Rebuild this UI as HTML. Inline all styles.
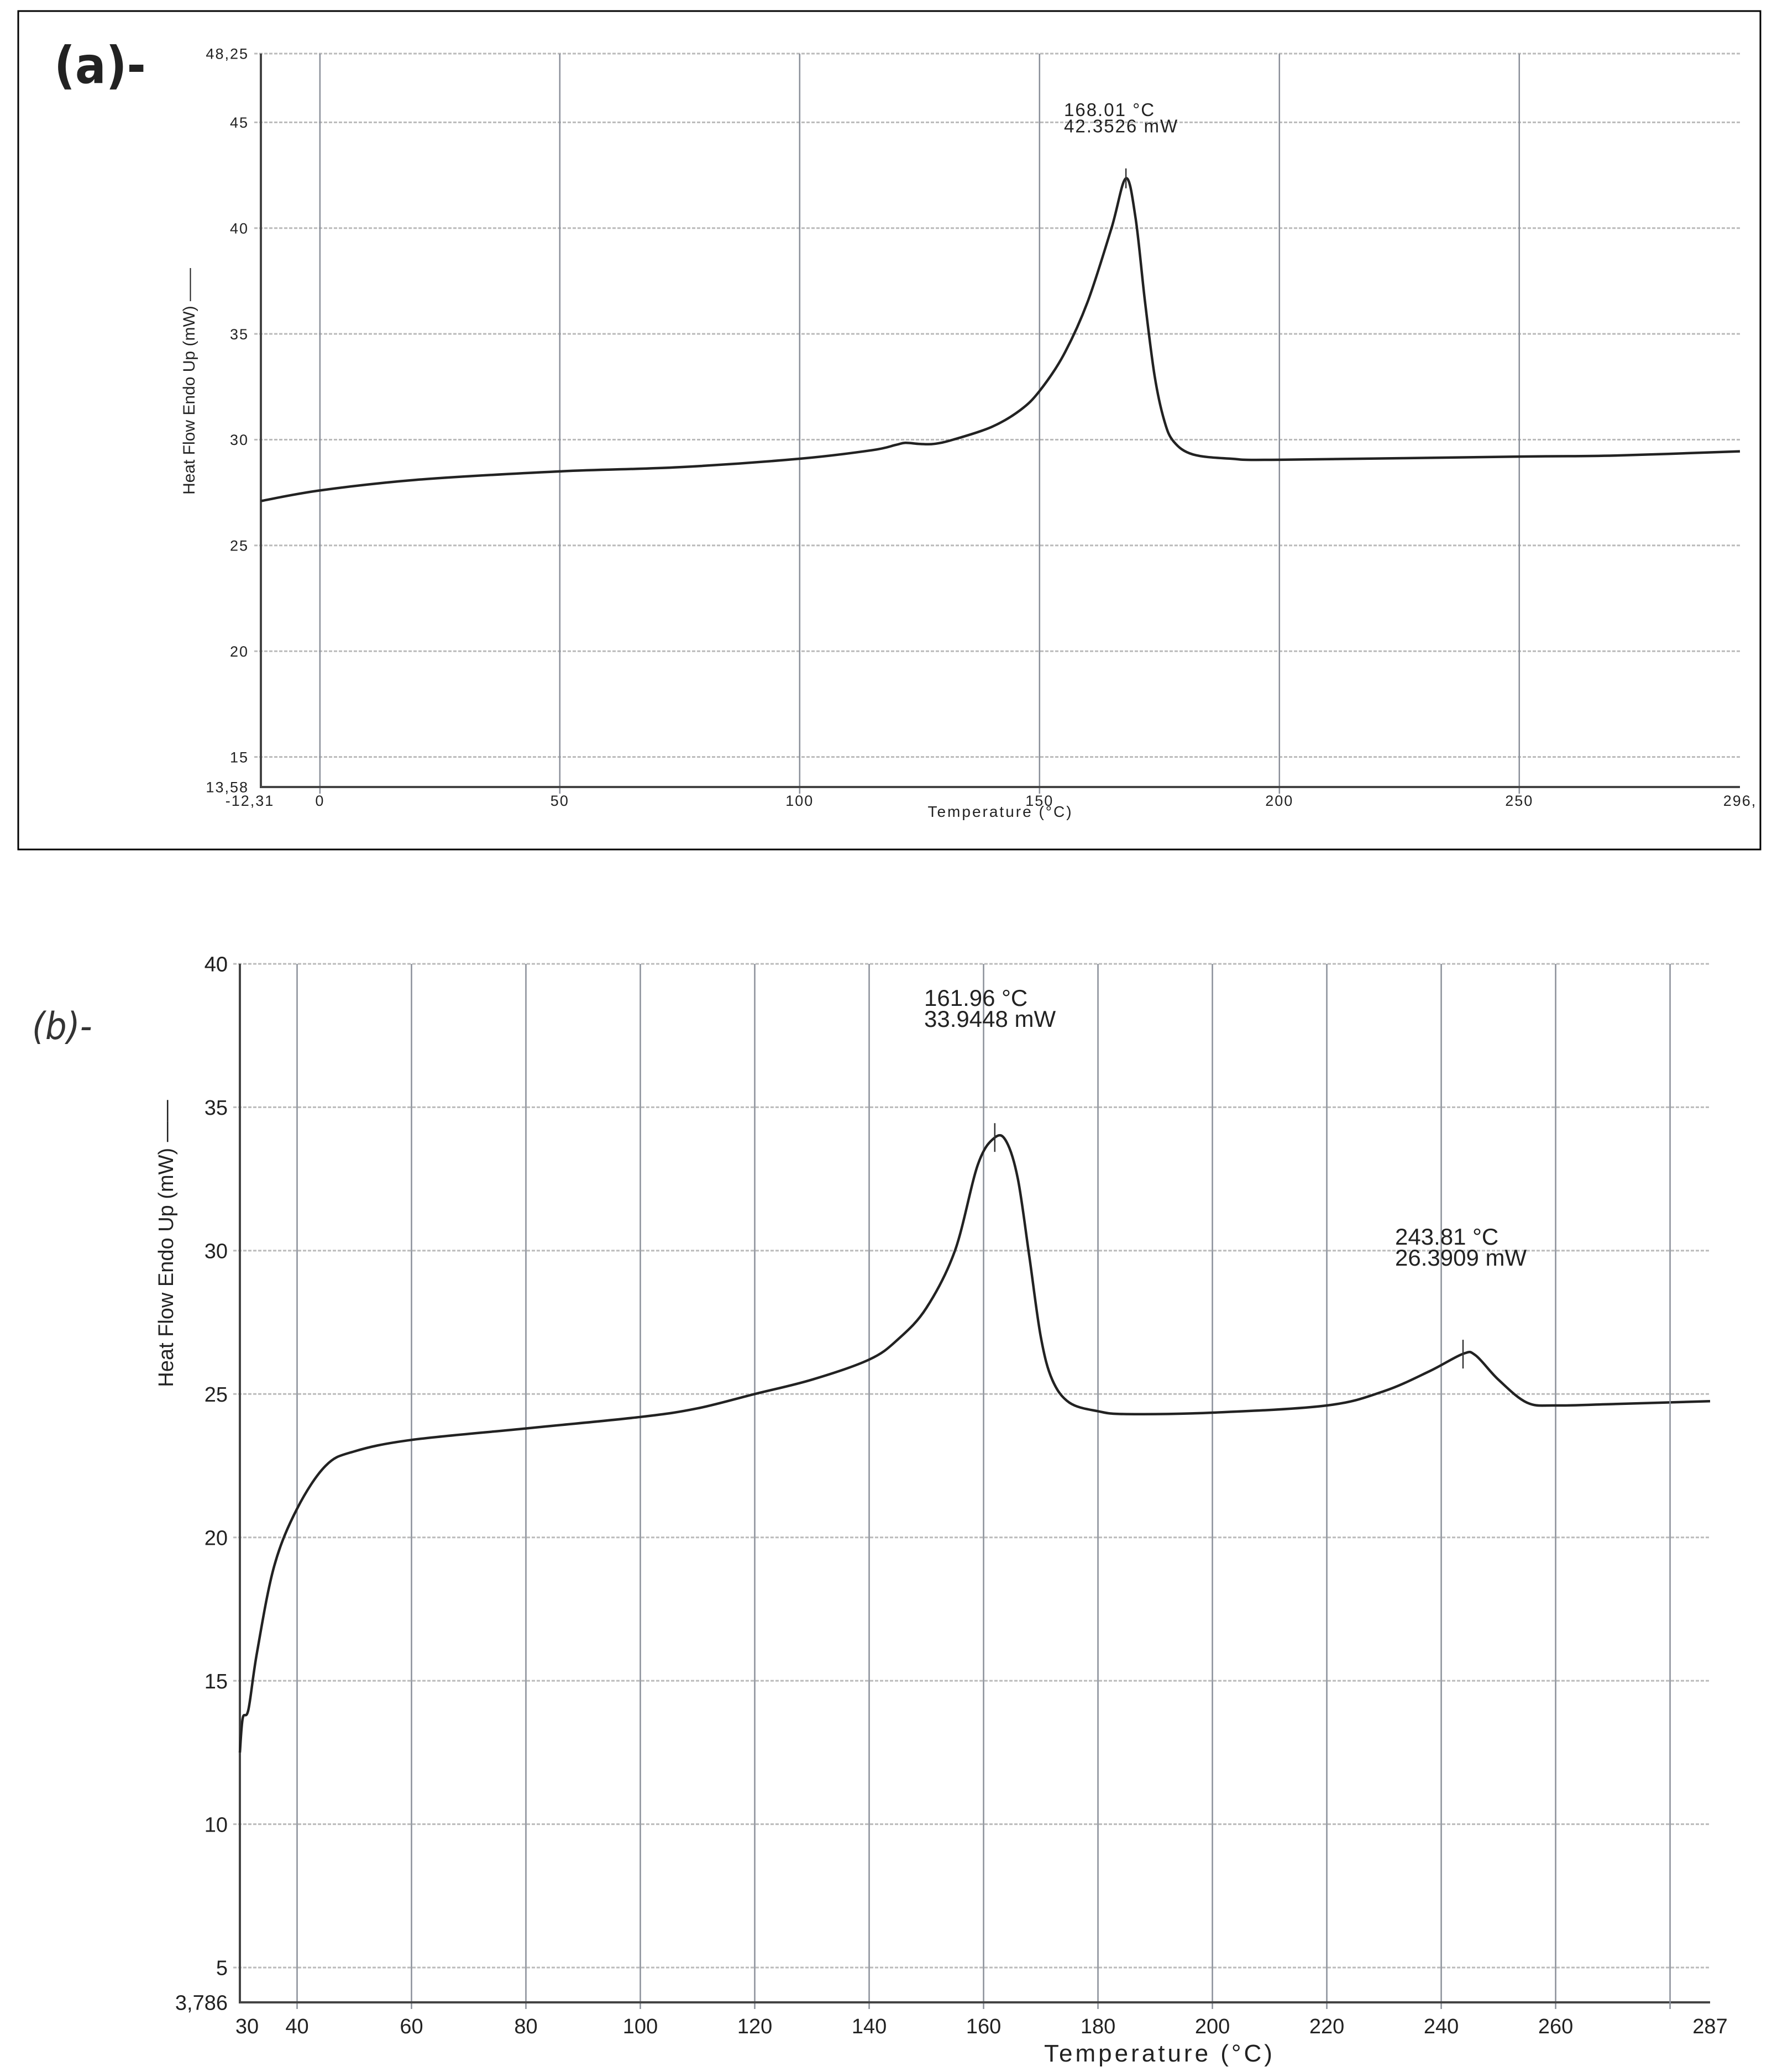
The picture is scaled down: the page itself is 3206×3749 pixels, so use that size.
<!DOCTYPE html>
<html><head><meta charset="utf-8"><style>
html,body{margin:0;padding:0;background:#fff;}
svg{display:block;}
text{font-family:"Liberation Sans",sans-serif;fill:#222;}
.n{font-family:"Liberation Sans Narrow","Liberation Sans",sans-serif;}
</style></head><body>
<svg id="chart" width="3206" height="3749" viewBox="0 0 3206 3749" xmlns="http://www.w3.org/2000/svg">
<rect x="33" y="20" width="3152" height="1517" fill="none" stroke="#000" stroke-width="3"/>
<text x="98" y="150" font-size="92" font-weight="bold" style="font-family:'DejaVu Sans Condensed','Liberation Sans Narrow',sans-serif">(a)-</text>
<text x="58" y="1880" font-size="68" font-style="italic" style="font-family:'DejaVu Sans Condensed','Liberation Sans Narrow',sans-serif;fill:#333">(b)-</text>
<g id="ga"></g><g id="gb"></g>
</svg>
<script>
// Panel (a) data
const aTicksX = [0,50,100,150,200,250];
const aTicksY = [15,20,25,30,35,40,45];
const aTempX = [-12.31,0,20,50,75,100,115,120,122,125,128,132,140,146,150,155,160,165,168,170,172,174,176,178,182,190,200,250,270,296];
const aHeat = [27.1,27.6,28.1,28.5,28.7,29.1,29.5,29.75,29.85,29.8,29.8,30.0,30.6,31.4,32.3,34,36.5,40,42.35,40.5,36.5,33,30.9,29.9,29.3,29.1,29.05,29.2,29.25,29.45];
// Panel (b) data
const bTicksX = [40,60,80,100,120,140,160,180,200,220,240,260,280];
const bTicksY = [5,10,15,20,25,30,35,40];
const bTempX = [30,30.5,31.5,33,36,40,45,50,60,80,100,110,120,130,140,145,150,155,159,162,164,166,168,170,172,175,180,185,200,220,230,238,243.8,246,250,255,260,270,287];
const bHeat = [12.5,13.7,14,16,19,21,22.5,23,23.4,23.8,24.2,24.5,25,25.5,26.2,26.9,28,30,33,33.95,33.8,32.5,29.8,27,25.5,24.7,24.4,24.3,24.35,24.6,25.1,25.8,26.4,26.35,25.5,24.7,24.6,24.65,24.75];

const NS='http://www.w3.org/2000/svg';
function mk(parent,tag,attrs,txt){const e=document.createElementNS(NS,tag);for(const k in attrs)e.setAttribute(k,attrs[k]);if(txt!==undefined)e.textContent=txt;parent.appendChild(e);return e;}
function pathFrom(pts){let d='M'+pts[0][0].toFixed(1)+','+pts[0][1].toFixed(1);
 for(let i=0;i<pts.length-1;i++){const p0=pts[Math.max(0,i-1)],p1=pts[i],p2=pts[i+1],p3=pts[Math.min(pts.length-1,i+2)];
 const c1=[p1[0]+(p2[0]-p0[0])/6,p1[1]+(p2[1]-p0[1])/6],c2=[p2[0]-(p3[0]-p1[0])/6,p2[1]-(p3[1]-p1[1])/6];
 d+='C'+c1[0].toFixed(1)+','+c1[1].toFixed(1)+' '+c2[0].toFixed(1)+','+c2[1].toFixed(1)+' '+p2[0].toFixed(1)+','+p2[1].toFixed(1);}return d;}

function panel(g,o){
 const sx=v=>o.px0+(v-o.xmin)/(o.xmax-o.xmin)*(o.px1-o.px0);
 const sy=v=>o.py1-(v-o.ymin)/(o.ymax-o.ymin)*(o.py1-o.py0);
 [...o.ty,o.ymax].forEach(v=>{const l=mk(g,'line',{x1:o.px0-12,x2:o.px1,y1:sy(v),y2:sy(v),stroke:'#bbb','stroke-width':3,'stroke-dasharray':'6,3'});
  
  });
 o.tx.forEach(v=>{const l=mk(g,'line',{x1:sx(v),x2:sx(v),y1:o.py0,y2:o.py1+12,stroke:'#8a8f99','stroke-width':2.5});
  
  
  const t=mk(g,'text',{x:sx(v),y:o.py1+o.tdy,'font-size':o.fs,'text-anchor':'middle',class:o.cls,'letter-spacing':o.tls},String(v));
  
  });
 o.ty.forEach(v=>{const t=mk(g,'text',{x:o.px0-22,y:sy(v)+o.fs*0.36,'font-size':o.fs,'text-anchor':'end',class:o.cls,'letter-spacing':o.tls},String(v));
  
  });
 [[o.xmin,o.xminL],[o.xmax,o.xmaxL]].forEach(([v,l])=>{const t=mk(g,'text',{x:sx(v),y:o.py1+o.tdy,'font-size':o.fs,'text-anchor':v===o.xmin?'end':'middle',class:o.cls,'letter-spacing':o.tls},l);
  if(v===o.xmin)t.setAttribute('x',sx(v)+o.fs*0.9);
  
  });
 [[o.ymin,o.yminL],[o.ymax,o.ymaxL]].forEach(([v,l])=>{const t=mk(g,'text',{x:o.px0-22,y:sy(v)+o.fs*0.36,'font-size':o.fs,'text-anchor':'end',class:o.cls,'letter-spacing':o.tls},l);
  
  });
 const ax=mk(g,'path',{d:`M${o.px0},${o.py0}V${o.py1}H${o.px1}`,fill:'none',stroke:'#444','stroke-width':4});
 
 
 const pts=o.X.map((x,i)=>[sx(x),sy(o.Y[i])]);
 const c=mk(g,'path',{d:pathFrom(pts),fill:'none',stroke:'#222','stroke-width':4.5});
 
 
 o.peaks.forEach(p=>{const m=mk(g,'line',{x1:sx(p[0]),x2:sx(p[0]),y1:sy(p[1])-o.pk,y2:sy(p[1])+o.pk,stroke:'#333','stroke-width':2.5});
  
  
  const t1=mk(g,'text',{x:p[2],y:p[3],'font-size':o.afs,'letter-spacing':o.tls},p[0].toFixed(2)+' °C');
  
  
  const t2=mk(g,'text',{x:p[2],y:p[3]+o.afs*0.9,'font-size':o.afs,'letter-spacing':o.tls},p[1].toFixed(4)+' mW');
  
  });
 const xt=mk(g,'text',{x:o.xtx,y:o.xty,'font-size':o.xtfs,'text-anchor':'middle','letter-spacing':o.ls},'Temperature (°C)');
 
 
 const yt=mk(g,'text',{x:0,y:0,'font-size':o.ytfs,'text-anchor':'middle',transform:`translate(${o.ytx},${o.yty}) rotate(-90)`,class:'n'},'Heat Flow Endo Up (mW) ——');
 
 
}
panel(document.getElementById('ga'),{xmin:-12.31,xmax:296,ymin:13.58,ymax:48.25,px0:472,px1:3148,py0:97,py1:1424,
 tx:aTicksX,ty:aTicksY,X:aTempX,Y:aHeat,fs:27,tls:2,tdy:34,cls:'',xminL:'-12,31',xmaxL:'296,',yminL:'13,58',ymaxL:'48,25',
 peaks:[[168.01,42.3526,1925,210]],pk:18,afs:33,xtx:1810,xty:1478,xtfs:28,ls:3,ytx:352,yty:690,ytfs:30});
panel(document.getElementById('gb'),{xmin:30,xmax:287,ymin:3.786,ymax:40,px0:434,px1:3094,py0:1744,py1:3623,
 tx:bTicksX.filter(v=>v!==280),ty:bTicksY,X:bTempX,Y:bHeat,fs:38,tls:0,tdy:56,cls:'n',xminL:'30',xmaxL:'287',yminL:'3,786',ymaxL:'40',
 peaks:[[161.96,33.9448,1672,1820],[243.81,26.3909,2524,2252]],pk:26,afs:42,xtx:2098,xty:3730,xtfs:44,ls:5,ytx:313,yty:2250,ytfs:38});
(function(){const g=document.getElementById('gb');const x=434+(280-30)/(257)*(3094-434);
 const l=mk(g,'line',{x1:x,x2:x,y1:1744,y2:3635,stroke:'#8a8f99','stroke-width':2.5});
 
 })();
</script>
</body></html>
